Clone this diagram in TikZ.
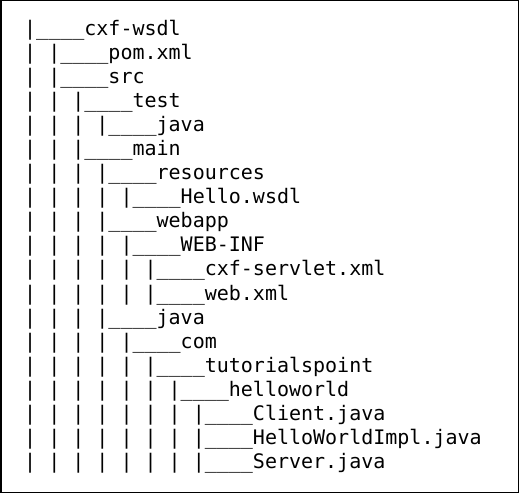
\documentclass[tikz,border=0pt]{standalone}
\usepackage{fontspec}
\newfontfamily\treefont{DejaVu Sans Mono}
\usetikzlibrary{calc}

\newcommand{\pp}{|~}
\newcommand{\leaf}{|\_\_\_\_}

\begin{document}
\begin{tikzpicture}[x=1pt,y=1pt,
  every node/.style={font=\treefont\fontsize{20}{24}\selectfont, inner sep=0pt, anchor=base west}]
\useasboundingbox (0,0) rectangle (519,493);
\draw[line width=1.5pt] (0.75,0.75) rectangle (518.25,492.25);
\foreach \txt [count=\i] in {
  \leaf cxf-wsdl,
  \pp\leaf pom.xml,
  \pp\leaf src,
  \pp\pp\leaf test,
  \pp\pp\pp\leaf java,
  \pp\pp\leaf main,
  \pp\pp\pp\leaf resources,
  \pp\pp\pp\pp\leaf Hello.wsdl,
  \pp\pp\pp\leaf webapp,
  \pp\pp\pp\pp\leaf WEB-INF,
  \pp\pp\pp\pp\pp\leaf cxf-servlet.xml,
  \pp\pp\pp\pp\pp\leaf web.xml,
  \pp\pp\pp\leaf java,
  \pp\pp\pp\pp\leaf com,
  \pp\pp\pp\pp\pp\leaf tutorialspoint,
  \pp\pp\pp\pp\pp\pp\leaf helloworld,
  \pp\pp\pp\pp\pp\pp\pp\leaf Client.java,
  \pp\pp\pp\pp\pp\pp\pp\leaf HelloWorldImpl.java,
  \pp\pp\pp\pp\pp\pp\pp\leaf Server.java}
  \node (l\i) at (24,{457-(\i-1)*24}) {\txt};
\end{tikzpicture}
\end{document}
